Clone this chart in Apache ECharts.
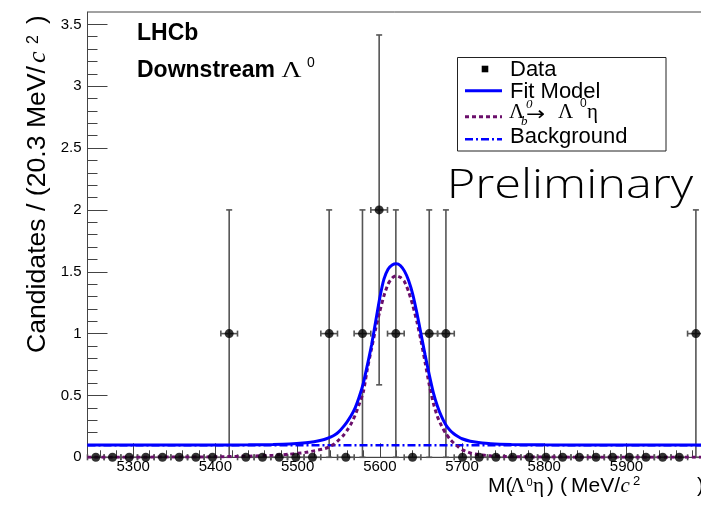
<!DOCTYPE html>
<html>
<head>
<meta charset="utf-8">
<script src="https://cdn.jsdelivr.net/npm/echarts@6/dist/echarts.min.js"></script>
<style>
  html, body { margin: 0; padding: 0; background: #fff; }
  #chart { width: 701px; height: 511px; }
</style>
</head>
<body>
<div id="chart"></div>
<script>
// Λ0η invariant mass, 37 bins of 20.27 MeV/c² between 5244.5 and 5994.5
const massRange = [5244.5, 5994.5];
const binHalfWidth = 10.135;
const binCenters = [
  5254.6, 5274.9, 5295.2, 5315.4, 5335.7, 5356.0, 5376.3, 5396.5, 5416.8, 5437.1,
  5457.3, 5477.6, 5497.9, 5518.1, 5538.4, 5558.7, 5578.9, 5599.2, 5619.5, 5639.8,
  5660.1, 5680.4, 5700.6, 5720.9, 5741.2, 5761.5, 5781.8, 5802.0, 5822.3, 5842.6,
  5862.9, 5883.1, 5903.4, 5923.7, 5944.0, 5964.2, 5984.4
];
const binCounts = [
  0, 0, 0, 0, 0, 0, 0, 0, 1, 0,
  0, 0, 0, 0, 1, 0, 1, 2, 1, 0,
  1, 1, 0, 0, 0, 0, 0, 0, 0, 0,
  0, 0, 0, 0, 0, 0, 1
];

// fit projections sampled along the mass axis
const curveMass = [
  5244.5, 5300, 5350, 5400, 5440, 5470, 5490, 5510, 5520, 5530,
  5535, 5540, 5545, 5550, 5555, 5560, 5565, 5570, 5575, 5580,
  5585, 5590, 5595, 5600, 5605, 5610, 5615, 5620, 5625, 5630,
  5635, 5640, 5645, 5650, 5655, 5660, 5665, 5670, 5675, 5680,
  5685, 5690, 5695, 5700, 5710, 5720, 5735, 5760, 5800, 5860,
  5994.5
];
const fitTotal = [
  0.099, 0.099, 0.099, 0.100, 0.101, 0.104, 0.108, 0.118, 0.126, 0.140,
  0.150, 0.163, 0.180, 0.205, 0.242, 0.285, 0.335, 0.400, 0.490, 0.600,
  0.750, 0.910, 1.100, 1.290, 1.440, 1.520, 1.555, 1.565, 1.550, 1.505,
  1.430, 1.320, 1.170, 1.000, 0.830, 0.670, 0.525, 0.415, 0.330, 0.265,
  0.220, 0.190, 0.168, 0.150, 0.130, 0.120, 0.110, 0.104, 0.101, 0.100,
  0.099
];
const fitSignal = [
  0.000, 0.001, 0.002, 0.004, 0.009, 0.016, 0.025, 0.040, 0.052, 0.065,
  0.075, 0.090, 0.110, 0.140, 0.172, 0.215, 0.270, 0.340, 0.430, 0.530,
  0.720, 0.880, 1.040, 1.180, 1.305, 1.400, 1.450, 1.468, 1.455, 1.420,
  1.340, 1.230, 1.100, 0.945, 0.770, 0.590, 0.440, 0.330, 0.255, 0.195,
  0.150, 0.115, 0.087, 0.062, 0.035, 0.022, 0.012, 0.005, 0.002, 0.001,
  0.000
];
const bkgMass = [5244.5, 5994.5];
const fitBackground = [0.097, 0.097];

// axis ticks
const xMajorTicks = [5300, 5400, 5500, 5600, 5700, 5800, 5900];
const xMinorTicks = [
  5260, 5280, 5320, 5340, 5360, 5380, 5420, 5440, 5460, 5480,
  5520, 5540, 5560, 5580, 5620, 5640, 5660, 5680, 5720, 5740,
  5760, 5780, 5820, 5840, 5860, 5880, 5920, 5940, 5960, 5980
];
const yMajorTicks = [0, 0.5, 1, 1.5, 2, 2.5, 3, 3.5];
const yMinorTicks = [
  0.1, 0.2, 0.3, 0.4, 0.6, 0.7, 0.8, 0.9, 1.1, 1.2, 1.3, 1.4,
  1.6, 1.7, 1.8, 1.9, 2.1, 2.2, 2.3, 2.4, 2.6, 2.7, 2.8, 2.9,
  3.1, 3.2, 3.3, 3.4
];
const yMax = 3.6;

const SANS = '"Liberation Sans", Arial, Helvetica, sans-serif';
const SERIF = '"Liberation Serif", "Times New Roman", serif';
const LIGHT = '"Open Sans", Roboto, sans-serif';
const ARROW = '"DejaVu Sans", sans-serif';
const AXIS_COLOR = '#444';
const BAR_COLOR = '#555';
const BLUE = '#0000ff';
const PURPLE = '#6b0f6b';

const measureCtx = document.createElement('canvas').getContext('2d');
function textWidth(str, font) { measureCtx.font = font; return measureCtx.measureText(str).width; }

// text placed by its alphabetic baseline
function label(text, x, base, size, opt) {
  opt = opt || {};
  const family = opt.family || SANS;
  const mid = opt.mid != null ? opt.mid : (family === SERIF ? 0.338 : 0.347);
  const font = (opt.italic ? 'italic ' : '') + (opt.weight || 'normal') + ' ' + size + 'px ' + family;
  let scaleX = opt.scaleX || 1;
  if (opt.fitWidth) scaleX = opt.fitWidth / textWidth(text, font);
  return {
    type: 'text', x: x, y: base - mid * size, scaleX: scaleX, silent: true, z: 100,
    style: { text: text, font: font, fill: '#000', textAlign: 'left', textVerticalAlign: 'middle' }
  };
}

const chart = echarts.init(document.getElementById('chart'), null, { renderer: 'canvas' });

const points = binCenters.map((c, i) => [c, binCounts[i]]);
const zip = (xs, ys) => xs.map((x, i) => [x, ys[i]]);

function errorBars(params, api) {
  const x = api.value(0), n = api.value(1);
  const c = api.coord([x, n]);
  const l = api.coord([x - binHalfWidth, n]);
  const r = api.coord([x + binHalfWidth, n]);
  const st = { stroke: BAR_COLOR, lineWidth: 1.6 };
  const kids = [
    { type: 'line', shape: { x1: l[0], y1: c[1], x2: r[0], y2: c[1] }, style: st },
    { type: 'line', shape: { x1: l[0], y1: c[1] - 3, x2: l[0], y2: c[1] + 3 }, style: st },
    { type: 'line', shape: { x1: r[0], y1: c[1] - 3, x2: r[0], y2: c[1] + 3 }, style: st }
  ];
  if (n > 0) {
    const e = Math.sqrt(n);
    const t = api.coord([x, n + e]);
    const b = api.coord([x, n - e]);
    kids.push(
      { type: 'line', shape: { x1: c[0], y1: t[1], x2: c[0], y2: b[1] }, style: st },
      { type: 'line', shape: { x1: c[0] - 3, y1: t[1], x2: c[0] + 3, y2: t[1] }, style: st },
      { type: 'line', shape: { x1: c[0] - 3, y1: b[1], x2: c[0] + 3, y2: b[1] }, style: st }
    );
  }
  return { type: 'group', children: kids };
}

const xBase = {
  type: 'value', min: massRange[0], max: massRange[1], position: 'bottom',
  splitLine: { show: false }
};
const yBase = {
  type: 'value', min: 0, max: yMax, position: 'left',
  splitLine: { show: false }
};

// legend and annotations
const graphics = [
  { type: 'rect', z: 90, shape: { x: 457.5, y: 57.5, width: 208.5, height: 93.5 },
    style: { fill: '#fff', stroke: '#222', lineWidth: 1 } },
  { type: 'rect', z: 91, shape: { x: 481.7, y: 65.7, width: 6.6, height: 6.6 }, style: { fill: '#000' } },
  { type: 'line', z: 91, shape: { x1: 465, y1: 90.7, x2: 502, y2: 90.7 }, style: { stroke: BLUE, lineWidth: 3 } },
  { type: 'line', z: 91, shape: { x1: 465, y1: 116.7, x2: 502, y2: 116.7 }, style: { stroke: PURPLE, lineWidth: 3, lineDash: [4, 3] } },
  { type: 'line', z: 91, shape: { x1: 465, y1: 139.3, x2: 502, y2: 139.3 }, style: { stroke: BLUE, lineWidth: 2.5, lineDash: [8, 3, 2, 3] } },
  label('Data', 510, 77.5, 22),
  label('Fit Model', 510, 99.8, 22),
  label('Λ', 509, 119.3, 20, { family: SERIF, scaleX: 1.05 }),
  label('b', 521, 126, 13, { family: SERIF, italic: true }),
  label('0', 526, 108.5, 13, { family: SERIF, italic: true }),
  label('→', 526, 121.5, 19, { family: ARROW, scaleX: 1.2 }),
  label('Λ', 558, 119.3, 20, { family: SERIF, scaleX: 1.05 }),
  label('0', 580, 108, 12),
  label('η', 587, 119.3, 21, { family: SERIF }),
  label('Background', 510, 145, 22),

  label('LHCb', 137, 41.7, 23, { weight: 'bold' }),
  label('Downstream', 137, 78.3, 23, { weight: 'bold' }),
  label('Λ', 281.5, 78.3, 23, { family: SERIF, scaleX: 1.2 }),
  label('0', 307, 68.3, 14),

  label('Preliminary', 446.7, 202.3, 40, { family: LIGHT, weight: 300, mid: 0.388, fitWidth: 246.5 }),

  // x-axis title
  label('M(', 488, 493.3, 21),
  label('Λ', 510, 493.3, 21, { family: SERIF }),
  label('0', 526.5, 486.3, 11),
  label('η', 533, 493.3, 21, { family: SERIF }),
  label(')', 547, 493.3, 21),
  label('(', 560, 493.3, 21),
  label('MeV/', 571, 493.3, 21),
  label('c', 620.5, 493.3, 21, { family: SERIF, italic: true }),
  label('2', 633, 486.3, 13),
  label(')', 697, 493.3, 21),

  // y-axis title, reading bottom to top
  { type: 'group', x: 46.7, y: 353, rotation: Math.PI / 2, z: 100, children: [
    label('Candidates / (20.3 MeV/', 0, 0, 26, { fitWidth: 287 }),
    label('c', 290, 0, 26, { family: SERIF, italic: true }),
    label('2', 309, -8, 16),
    label(')', 329, 0, 26)
  ] }
];

chart.setOption({
  animation: false,
  backgroundColor: '#fff',
  grid: {
    left: 87.5, top: 12, width: 616.7, height: 445.3,
    show: true, borderColor: AXIS_COLOR, borderWidth: 1, backgroundColor: 'transparent',
    containLabel: false, outerBoundsMode: 'none'
  },
  xAxis: [
    Object.assign({}, xBase, {
      axisLine: { show: true, onZero: false, lineStyle: { color: AXIS_COLOR, width: 1 } },
      axisTick: { show: true, inside: true, length: 14, customValues: xMajorTicks, lineStyle: { color: AXIS_COLOR, width: 1 } },
      axisLabel: { show: true, customValues: xMajorTicks, margin: 2, fontSize: 15, fontFamily: SANS, color: '#000',
        formatter: v => String(v) }
    }),
    Object.assign({}, xBase, {
      axisLine: { show: false },
      axisTick: { show: true, inside: true, length: 7, customValues: xMinorTicks, lineStyle: { color: AXIS_COLOR, width: 1 } },
      axisLabel: { show: false }
    })
  ],
  yAxis: [
    Object.assign({}, yBase, {
      axisLine: { show: true, onZero: false, lineStyle: { color: AXIS_COLOR, width: 1 } },
      axisTick: { show: true, inside: true, length: 20, customValues: yMajorTicks, lineStyle: { color: AXIS_COLOR, width: 1 } },
      axisLabel: { show: true, customValues: yMajorTicks, margin: 6, fontSize: 15, fontFamily: SANS, color: '#000',
        formatter: v => String(v) }
    }),
    Object.assign({}, yBase, {
      axisLine: { show: false },
      axisTick: { show: true, inside: true, length: 10, customValues: yMinorTicks, lineStyle: { color: AXIS_COLOR, width: 1 } },
      axisLabel: { show: false }
    })
  ],
  series: [
    {
      name: 'Data errors', type: 'custom', xAxisIndex: 0, yAxisIndex: 0, z: 2,
      renderItem: errorBars, encode: { x: 0, y: 1 }, data: points, silent: true
    },
    {
      name: 'Background', type: 'line', z: 3, showSymbol: false, silent: true,
      data: zip(bkgMass, fitBackground),
      lineStyle: { color: BLUE, width: 2.5, type: [8, 3, 2, 3] }
    },
    {
      name: 'Signal', type: 'line', z: 4, showSymbol: false, silent: true,
      smooth: 0.2,
      data: zip(curveMass, fitSignal),
      lineStyle: { color: PURPLE, width: 3, type: [4, 3] }
    },
    {
      name: 'Fit Model', type: 'line', z: 5, showSymbol: false, silent: true,
      smooth: 0.2,
      data: zip(curveMass, fitTotal),
      lineStyle: { color: BLUE, width: 3 }
    },
    {
      name: 'Data', type: 'scatter', z: 6, silent: true,
      symbol: 'circle', symbolSize: 9, itemStyle: { color: '#000' },
      data: points
    }
  ],
  graphic: graphics
});
</script>
</body>
</html>
